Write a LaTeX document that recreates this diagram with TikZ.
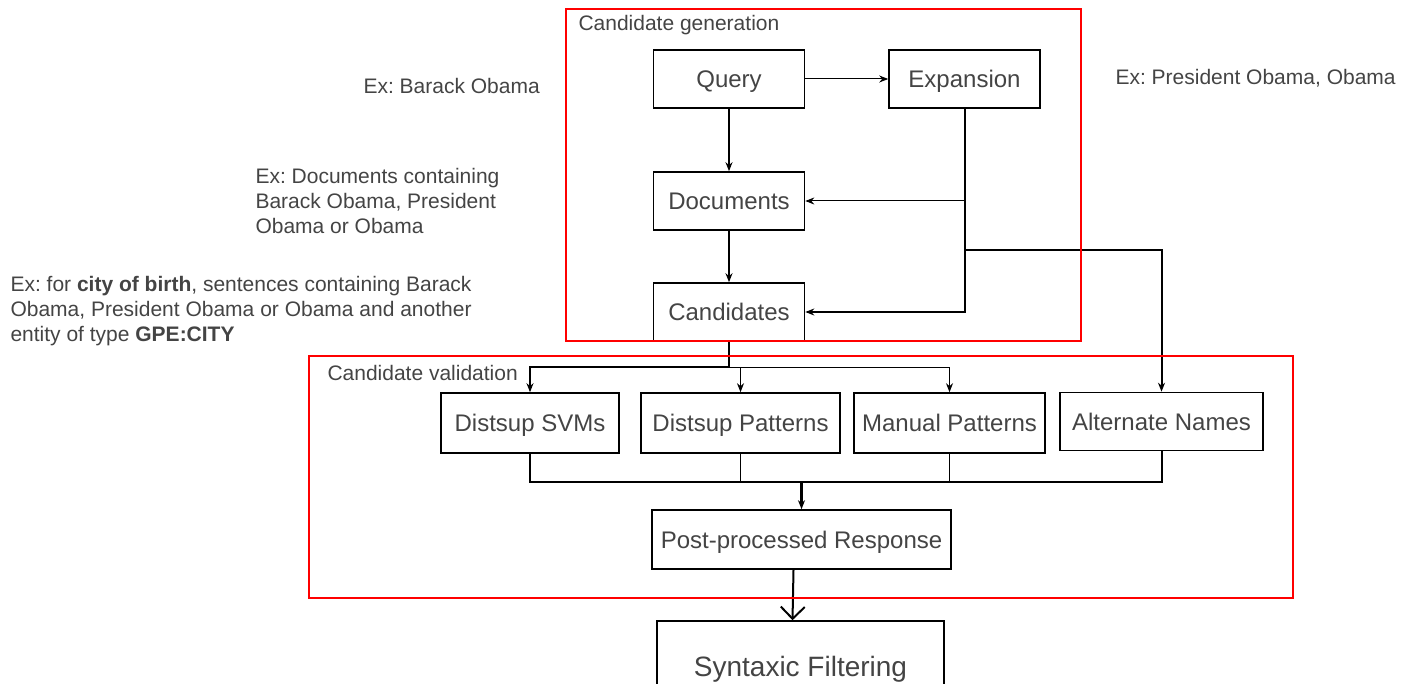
\documentclass[tikz,border=0pt]{standalone}
\usepackage{fontspec}
\setmainfont{Liberation Sans}
\usetikzlibrary{arrows.meta}
\definecolor{labelgray}{RGB}{68,68,68}
\frenchspacing

\begin{document}
\begin{tikzpicture}[x=1pt,y=-1pt,>={Stealth[length=9pt,width=7pt]},line width=1pt]
  \tikzstyle{block}=[draw,line width=1.6pt,minimum height=58pt,inner sep=0pt,text height=17pt,text depth=0pt,text=labelgray,font=\fontsize{24}{28}\selectfont]
  \tikzstyle{note}=[text=labelgray,inner sep=0pt,align=left,font=\fontsize{21}{25}\selectfont]
  \tikzstyle{group}=[draw=red,line width=1.3pt]
  \tikzstyle{wire}=[line width=2pt]
  \clip (0,0) rectangle (1404,684);

  \node [block,minimum width=151pt] (query) at (729,79) {Query};
  \node [block,minimum width=151pt] (exp) at (964.5,79) {Expansion};
  \node [block,minimum width=151pt] (docs) at (729,201) {Documents};
  \node [block,minimum width=151pt] (cands) at (729,312) {Candidates};
  \node [block,minimum width=178pt,minimum height=60pt] (svm) at (530,423) {Distsup SVMs};
  \node [block,minimum width=199pt,minimum height=60pt] (dpat) at (740.5,423) {Distsup Patterns};
  \node [block,minimum width=191pt,minimum height=60pt] (mpat) at (949.5,423) {Manual Patterns};
  \node [block,minimum width=203pt] (alt) at (1161.5,421.5) {Alternate Names};
  \node [block,minimum width=299pt,minimum height=59pt] (post) at (801.5,539.5) {Post-processed Response};
  \node [block,minimum width=287pt,minimum height=90pt,text height=20pt,font=\fontsize{28}{32}\selectfont] (syn) at (800.5,666) {Syntaxic Filtering};

  \coordinate (fork) at (964.5,250);
  \coordinate (hub) at (729,367);
  \coordinate (join) at (801.5,482);

  % candidate generation
  \draw [->] (query) -- (exp);
  \draw [->,wire] (query) -- (docs);
  \draw [->,wire] (docs) -- (cands);
  \draw [->,wire] (exp.south) |- (cands.east);
  \draw [->] (exp.south |- docs.east) -- (docs.east);
  \draw [->,wire] (fork) -| (alt.north);

  % candidate validation
  \draw [wire] (cands.south) -- (hub);
  \draw [->,wire] (hub) -| (svm.north);
  \draw [->] (hub) -| (dpat.north);
  \draw [->] (hub) -| (mpat.north);
  \draw [line width=1.5pt] (svm.south) |- (join);
  \draw [line width=1.5pt] (dpat.south) |- (join);
  \draw [line width=1.5pt] (mpat.south) |- (join);
  \draw [wire] (alt.south) |- (join);
  \draw [->,line width=2.5pt] (join) -- (post.north);
  \draw [-{Straight Barb[length=12pt,width=24pt]},wire] ([xshift=-8pt]post.south) -- ([xshift=-8pt]syn.north);

  \draw [group] (566,9) rectangle (1081,341);
  \draw [group] (309,356) rectangle (1293,598);

  \node [note,anchor=west] (genlabel) at (578,25) {Candidate generation};
  \node [note,anchor=west] (vallabel) at (327,373) {Candidate validation};

  \node [note,anchor=west] (exquery) at (363,86) {Ex: Barack Obama};
  \node [note,anchor=west] (exexp) at (1115,78) {Ex: President Obama, Obama};
  \node [note,anchor=north west] (exdocs) at (255,168) {Ex: Documents containing\\Barack Obama, President\\Obama or Obama};
  \node [note,anchor=north west] (excands) at (10,276) {Ex: for \textbf{city of birth}, sentences containing Barack\\Obama, President Obama or Obama and another\\entity of type \textbf{GPE:CITY}};
\end{tikzpicture}
\end{document}
